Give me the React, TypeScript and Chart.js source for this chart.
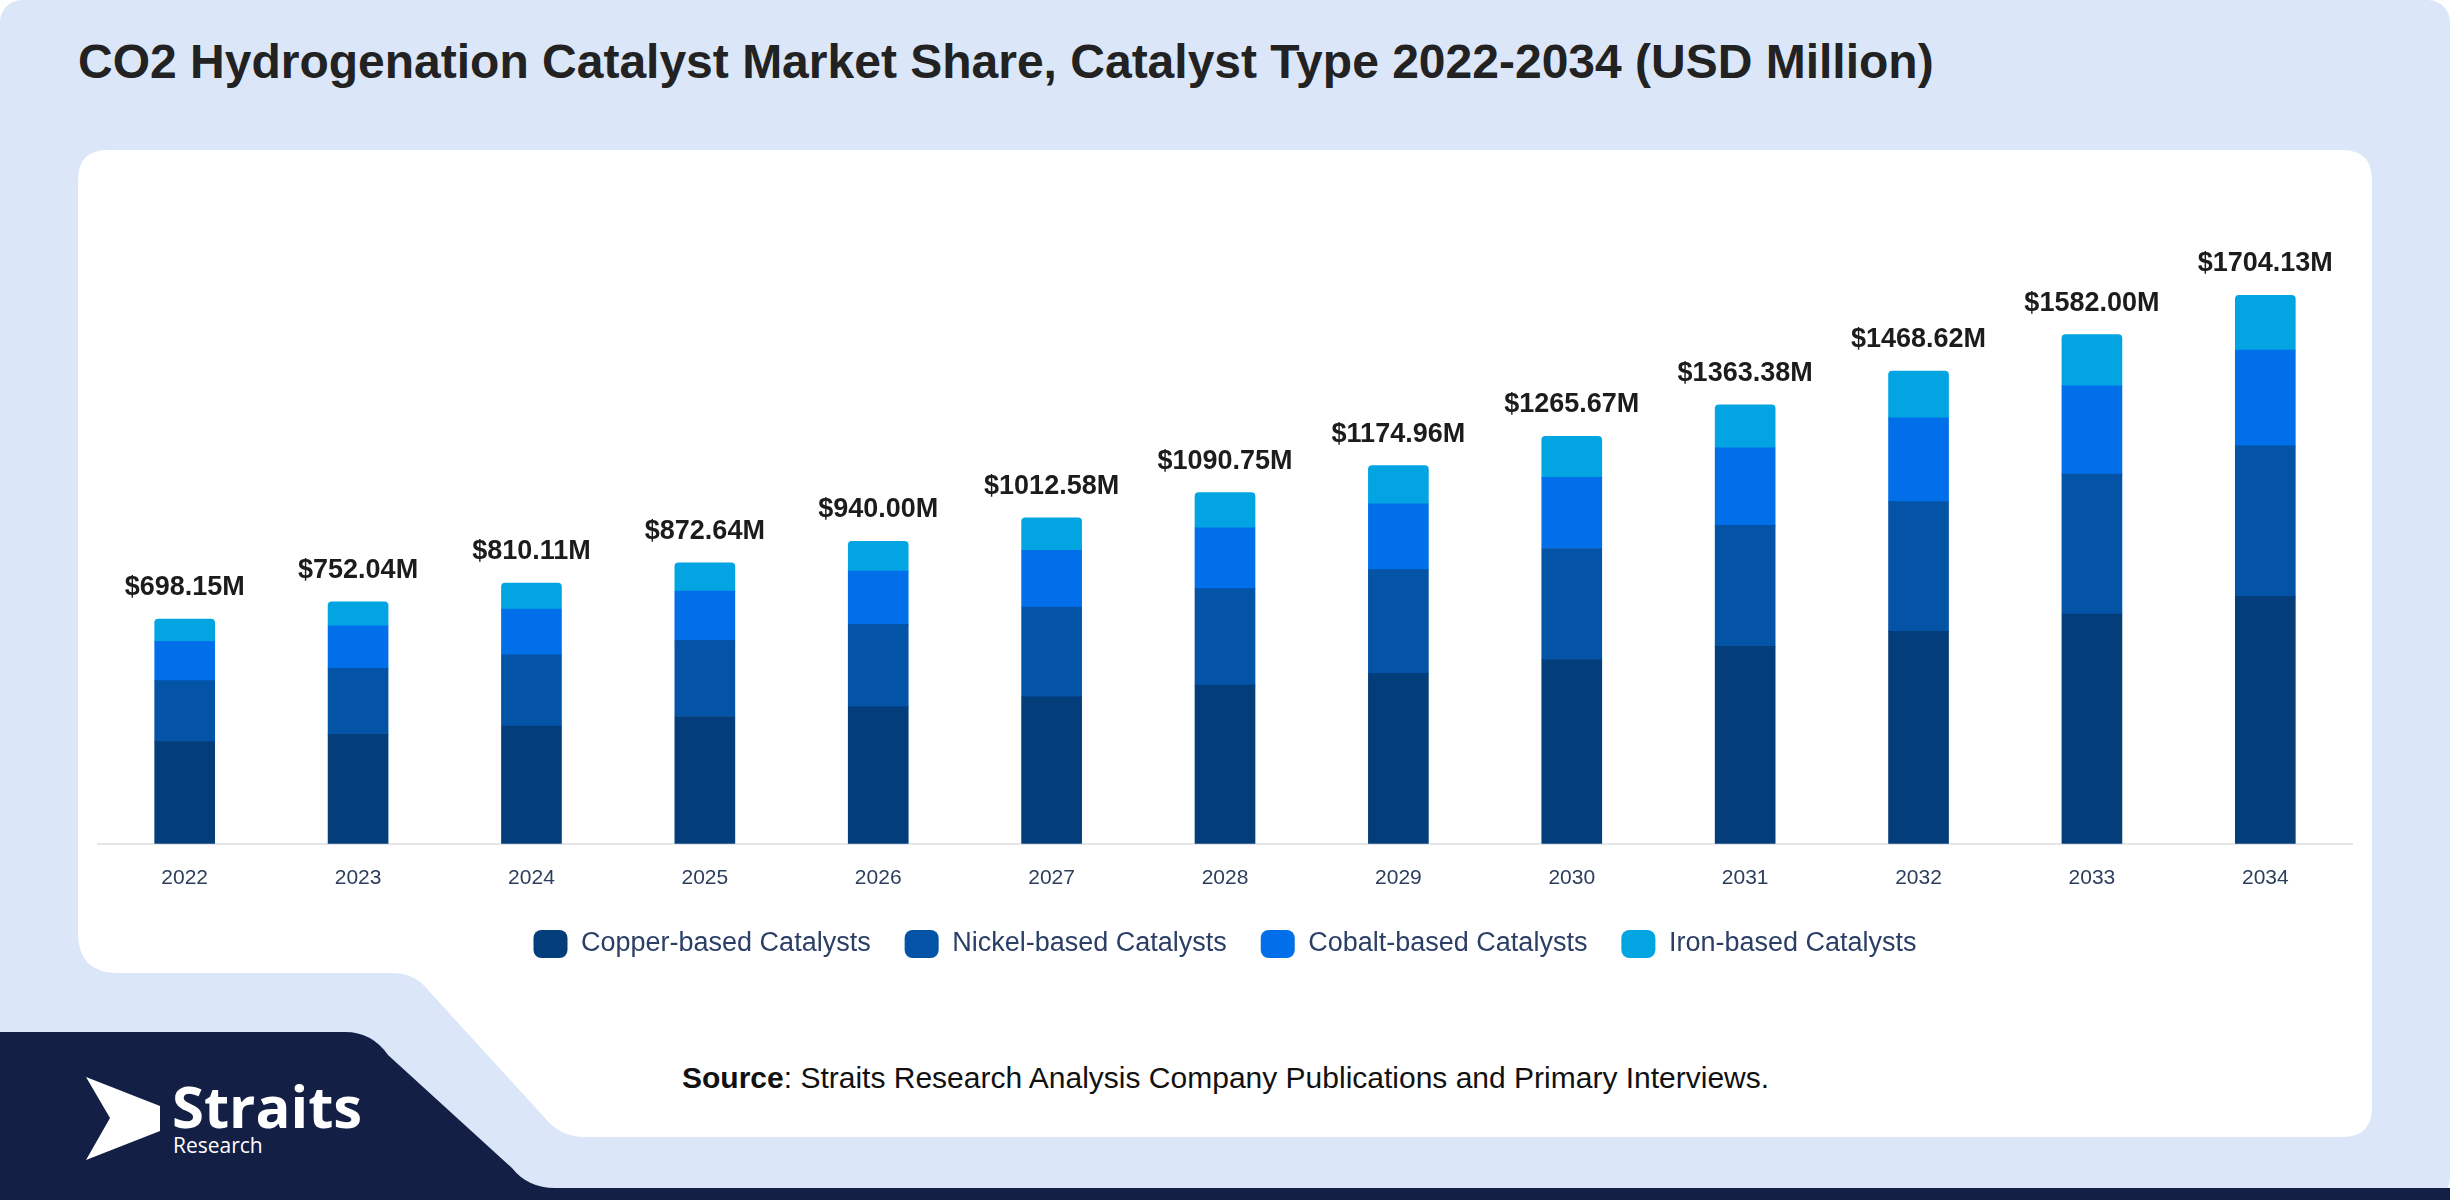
import React, { useEffect, useRef } from "react";
import { Chart, registerables } from "chart.js";

Chart.register(...registerables);

const years = ["2022", "2023", "2024", "2025", "2026", "2027", "2028", "2029", "2030", "2031", "2032", "2033", "2034"];
const copper = [317.4, 340.0, 366.0, 395.5, 425.5, 456.7, 493.0, 529.7, 571.3, 613.4, 660.0, 713.6, 769.0];
const nickel = [189.3, 205.0, 221.4, 236.8, 256.3, 279.0, 299.7, 322.2, 346.2, 376.0, 403.0, 435.0, 467.6];
const cobalt = [122.0, 132.5, 141.8, 152.8, 165.2, 175.8, 189.2, 204.4, 221.0, 241.0, 260.0, 274.0, 297.4];
const iron = [69.45, 74.54, 80.91, 87.54, 93.0, 101.08, 108.85, 118.66, 127.17, 132.98, 145.62, 159.4, 170.13];
const totals = [698.15, 752.04, 810.11, 872.64, 940.0, 1012.58, 1090.75, 1174.96, 1265.67, 1363.38, 1468.62, 1582.0, 1704.13];

const seriesNames = ["Copper-based Catalysts", "Nickel-based Catalysts", "Cobalt-based Catalysts", "Iron-based Catalysts"];
const seriesColors = ["#033d7a", "#0353a7", "#016fea", "#02a5e2"];

const FONT = "'Liberation Sans', Arial, Helvetica, sans-serif";

const totalLabels = {
  id: "totalLabels",
  afterDatasetsDraw(chart: any) {
    const ctx = chart.ctx;
    const meta = chart.getDatasetMeta(chart.data.datasets.length - 1);
    ctx.save();
    ctx.font = `bold 27px ${FONT}`;
    ctx.fillStyle = "#1c1c1c";
    ctx.textAlign = "center";
    ctx.textBaseline = "alphabetic";
    meta.data.forEach((bar: any, i: number) => {
      ctx.fillText(`$${totals[i].toFixed(2)}M`, bar.x, bar.y - 24);
    });
    ctx.restore();
  },
};

function BarChart() {
  const ref = useRef<HTMLCanvasElement | null>(null);
  useEffect(() => {
    if (!ref.current) return;
    const data = [copper, nickel, cobalt, iron];
    const chart = new Chart(ref.current, {
      type: "bar",
      data: {
        labels: years,
        datasets: data.map((d, i) => ({
          label: seriesNames[i],
          data: d,
          backgroundColor: seriesColors[i],
          borderWidth: 0,
          barThickness: 60,
          borderRadius: i === 3 ? { topLeft: 4, topRight: 4, bottomLeft: 0, bottomRight: 0 } : 0,
          borderSkipped: false,
        })),
      },
      options: {
        responsive: false,
        animation: false,
        devicePixelRatio: 1,
        layout: { padding: { left: 20, right: 20, top: 50, bottom: 0 } },
        plugins: {
          tooltip: { enabled: false },
          legend: {
            position: "bottom",
            labels: {
              boxWidth: 34,
              boxHeight: 28,
              useBorderRadius: true,
              borderRadius: 8,
              padding: 34,
              color: "#2b3f66",
              font: { family: FONT, size: 27 },
            },
          },
        },
        scales: {
          x: {
            stacked: true,
            grid: { display: false },
            border: { display: true, color: "#e4e6ea", width: 2 },
            ticks: { color: "#2c3e5c", padding: 14, font: { family: FONT, size: 21 } },
            afterFit: (scale: any) => {
              scale.height -= 9;
            },
          },
          y: {
            stacked: true,
            display: false,
            min: 0,
            max: 2000,
          },
        },
      },
      plugins: [totalLabels],
    });
    return () => chart.destroy();
  }, []);
  return (
    <canvas
      ref={ref}
      width={2294}
      height={818}
      style={{ position: "absolute", left: 78, top: 150, width: 2294, height: 818 }}
    />
  );
}

export default function App() {
  return (
    <div
      style={{
        position: "fixed",
        left: 0,
        top: 0,
        width: 2450,
        height: 1200,
        background: "#ffffff",
        overflow: "hidden",
        fontFamily: FONT,
      }}
    >
      <svg width={2450} height={1200} style={{ position: "absolute", left: 0, top: 0 }}>
        <rect x={0} y={0} width={2450} height={1200} rx={22} ry={22} fill="#dbe7f8" />
        <path
          d="M 108 150 H 2342 Q 2372 150 2372 180 V 1107 Q 2372 1137 2342 1137 H 585 Q 560 1137 545 1118 L 428 990 Q 415 973 392 973 H 118 Q 78 973 78 933 V 180 Q 78 150 108 150 Z"
          fill="#ffffff"
        />
        <path
          d="M 0 1032 H 345 Q 372 1032 388 1055 L 512 1168 Q 528 1188 555 1188 H 2450 V 1200 H 0 Z"
          fill="#131f45"
        />
        <polygon points="86,1077 160,1106 160,1131 86,1160 110,1118" fill="#ffffff" />
        <text x={172} y={1128} fill="#ffffff" fontFamily="'Open Sans', 'Noto Sans', sans-serif" fontWeight={700} fontSize={58}>
          Straits
        </text>
        <text x={173} y={1153} fill="#ffffff" fontFamily="'Open Sans', 'Noto Sans', sans-serif" fontSize={21}>
          Research
        </text>
      </svg>
      <div
        style={{
          position: "absolute",
          left: 78,
          top: 32,
          fontSize: 48,
          fontWeight: 700,
          color: "#222222",
          whiteSpace: "nowrap",
          lineHeight: "60px",
        }}
      >
        CO2 Hydrogenation Catalyst Market Share, Catalyst Type 2022-2034 (USD Million)
      </div>
      <BarChart />
      <div
        style={{
          position: "absolute",
          left: 682,
          top: 1058,
          fontSize: 30,
          color: "#111111",
          whiteSpace: "nowrap",
          lineHeight: "40px",
        }}
      >
        <b>Source</b>: Straits Research Analysis Company Publications and Primary Interviews.
      </div>
    </div>
  );
}
